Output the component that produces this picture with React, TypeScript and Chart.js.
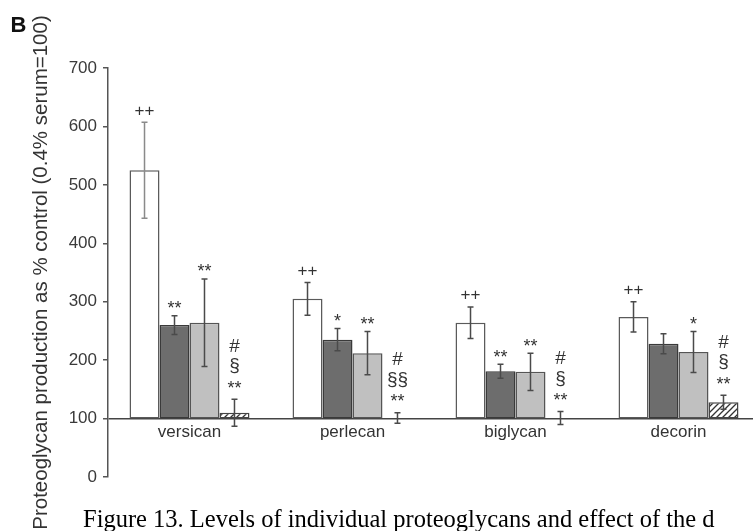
import React, { useEffect, useRef } from 'react';
import { Chart, registerables } from 'chart.js';

Chart.register(...registerables);

// ---- data ----
const categories = ['versican', 'perlecan', 'biglycan', 'decorin'];
const baselineValue = 100;
const yMin = 0;
const yMax = 700;
const yStep = 100;

const seriesNames = ['Control', 'Treatment A', 'Treatment B', 'Treatment C'];
const whiteMeans = [525, 305, 264, 274];
const whiteErrors = [82, 28, 27, 26];
const darkMeans = [260, 235, 181, 228];
const darkErrors = [16, 19, 12, 17];
const lightMeans = [264, 212, 180, 214];
const lightErrors = [75, 37, 32, 35];
const hatchMeans = [110, 101, 101, 128];
const hatchErrors = [23, 9, 11, 12];

const whiteMarks = ['++', '++', '++', '++'];
const darkMarks = ['**', '*', '**', ''];
const lightMarks = ['**', '**', '**', '*'];
const hatchMarks = [
  ['#', '§', '**'],
  ['#', '§§', '**'],
  ['#', '§', '**'],
  ['#', '§', '**'],
];

const yTitle = 'Proteoglycan production as % control (0.4% serum=100)';
const panelLetter = 'B';
const caption = 'Figure 13. Levels of individual proteoglycans and effect of the d';

// ---- derived ----
const allMeans = [whiteMeans, darkMeans, lightMeans, hatchMeans];
const allErrors = [whiteErrors, darkErrors, lightErrors, hatchErrors];

const SANS = '"Liberation Sans", Arial, sans-serif';

function makeHatch(ctx: CanvasRenderingContext2D) {
  const c = document.createElement('canvas');
  c.width = 6;
  c.height = 6;
  const g = c.getContext('2d')!;
  g.fillStyle = '#ffffff';
  g.fillRect(0, 0, 6, 6);
  g.strokeStyle = '#333333';
  g.lineWidth = 1.3;
  g.beginPath();
  g.moveTo(0, 6);
  g.lineTo(6, 0);
  g.moveTo(-3, 3);
  g.lineTo(3, -3);
  g.moveTo(3, 9);
  g.lineTo(9, 3);
  g.stroke();
  return ctx.createPattern(c, 'repeat');
}

function drawCentered(ctx: CanvasRenderingContext2D, text: string, x: number, cy: number) {
  const m = ctx.measureText(text);
  const asc = m.actualBoundingBoxAscent;
  const desc = m.actualBoundingBoxDescent;
  ctx.fillText(text, x, cy + (asc - desc) / 2);
}

const overlayPlugin = {
  id: 'overlayPlugin',
  afterDatasetsDraw(chart: any) {
    const ctx: CanvasRenderingContext2D = chart.ctx;
    const ys = chart.scales.y;
    const xs = chart.scales.x;
    ctx.save();
    // error bars
    chart.data.datasets.forEach((_ds: any, i: number) => {
      const meta = chart.getDatasetMeta(i);
      meta.data.forEach((el: any, j: number) => {
        const v = allMeans[i][j];
        const e = allErrors[i][j];
        const x = el.x;
        const yt = ys.getPixelForValue(v + e);
        const yb = ys.getPixelForValue(v - e);
        ctx.strokeStyle = i === 0 && j === 0 ? '#8a8a8a' : '#4a4a4a';
        ctx.lineWidth = 1.5;
        ctx.beginPath();
        ctx.moveTo(x, yt);
        ctx.lineTo(x, yb);
        ctx.moveTo(x - 3, yt);
        ctx.lineTo(x + 3, yt);
        ctx.moveTo(x - 3, yb);
        ctx.lineTo(x + 3, yb);
        ctx.stroke();

        // significance marks
        ctx.fillStyle = '#333333';
        ctx.textAlign = 'center';
        ctx.textBaseline = 'alphabetic';
        if (i === 0) {
          ctx.font = `17px ${SANS}`;
          drawCentered(ctx, whiteMarks[j], x, yt - 12);
        } else if (i === 1 || i === 2) {
          const t = i === 1 ? darkMarks[j] : lightMarks[j];
          if (t) {
            ctx.font = `18px ${SANS}`;
            drawCentered(ctx, t, x, yt - 11);
          }
        } else {
          const lines = hatchMarks[j];
          ctx.font = `19px ${SANS}`;
          drawCentered(ctx, lines[0], x, yt - 54);
          drawCentered(ctx, lines[1], x, yt - 33);
          ctx.font = `18px ${SANS}`;
          drawCentered(ctx, lines[2], x, yt - 15);
        }
      });
    });
    // category labels just below the baseline line
    ctx.fillStyle = '#333333';
    ctx.font = `17px ${SANS}`;
    ctx.textAlign = 'center';
    ctx.textBaseline = 'middle';
    const yl = ys.getPixelForValue(baselineValue) + 14;
    categories.forEach((c, j) => {
      ctx.fillText(c, xs.getPixelForValue(j), yl);
    });
    ctx.restore();
  },
};

export default function App() {
  const ref = useRef<HTMLCanvasElement | null>(null);

  useEffect(() => {
    const canvas = ref.current!;
    const ctx = canvas.getContext('2d')!;
    const hatch = makeHatch(ctx);
    const fills = ['#ffffff', '#6d6d6d', '#c0c0c0', hatch];
    const borders = ['#5a5a5a', '#3a3a3a', '#555555', '#444444'];

    const chart = new Chart(ctx, {
      type: 'bar',
      data: {
        labels: categories,
        datasets: allMeans.map((arr, i) => ({
          label: seriesNames[i],
          data: arr.map((v) => [baselineValue, v] as [number, number]),
          backgroundColor: fills[i] as any,
          borderColor: borders[i],
          borderWidth: 1.5,
          borderSkipped: false,
          categoryPercentage: 0.736,
          barPercentage: 1.0,
        })),
      },
      options: {
        animation: false,
        responsive: false,
        devicePixelRatio: 1,
        layout: { padding: { left: 0, top: 68, right: 10, bottom: 54 } },
        plugins: {
          legend: { display: false },
          tooltip: { enabled: false },
          title: { display: false },
        },
        scales: {
          x: {
            display: false,
            offset: true,
          },
          y: {
            min: yMin,
            max: yMax,
            ticks: {
              stepSize: yStep,
              color: '#3a3a3a',
              font: { family: SANS, size: 17 },
              padding: 6,
            },
            grid: {
              drawOnChartArea: true,
              drawTicks: true,
              tickLength: 5,
              tickColor: '#555555',
              lineWidth: 1.5,
              color: (c: any) => (c.tick && c.tick.value === baselineValue ? '#444444' : 'rgba(0,0,0,0)'),
            },
            border: { display: true, color: '#555555', width: 1.5 },
            title: {
              display: true,
              text: yTitle,
              color: '#333333',
              font: { family: SANS, size: 20.5 },
              padding: { top: 29, bottom: 0 },
            },
            afterFit: (s: any) => {
              s.width = 108;
            },
          },
        },
      },
      plugins: [overlayPlugin],
    });
    return () => chart.destroy();
  }, []);

  return (
    <div
      style={{
        position: 'fixed',
        left: 0,
        top: 0,
        width: 753,
        height: 531,
        overflow: 'hidden',
        background: '#ffffff',
      }}
    >
      <canvas
        ref={ref}
        width={770}
        height={531}
        style={{ position: 'absolute', left: 0, top: 0, width: 770, height: 531 }}
      />
      <div
        style={{
          position: 'absolute',
          left: 10.5,
          top: 14.4,
          font: `bold 22px ${SANS}`,
          lineHeight: '22px',
          color: '#111111',
        }}
      >
        {panelLetter}
      </div>
      <div
        style={{
          position: 'absolute',
          left: 83,
          top: 506.5,
          font: '24.5px "Liberation Serif", "Times New Roman", serif',
          lineHeight: '24.5px',
          color: '#000000',
          whiteSpace: 'nowrap',
        }}
      >
        {caption}
      </div>
    </div>
  );
}
